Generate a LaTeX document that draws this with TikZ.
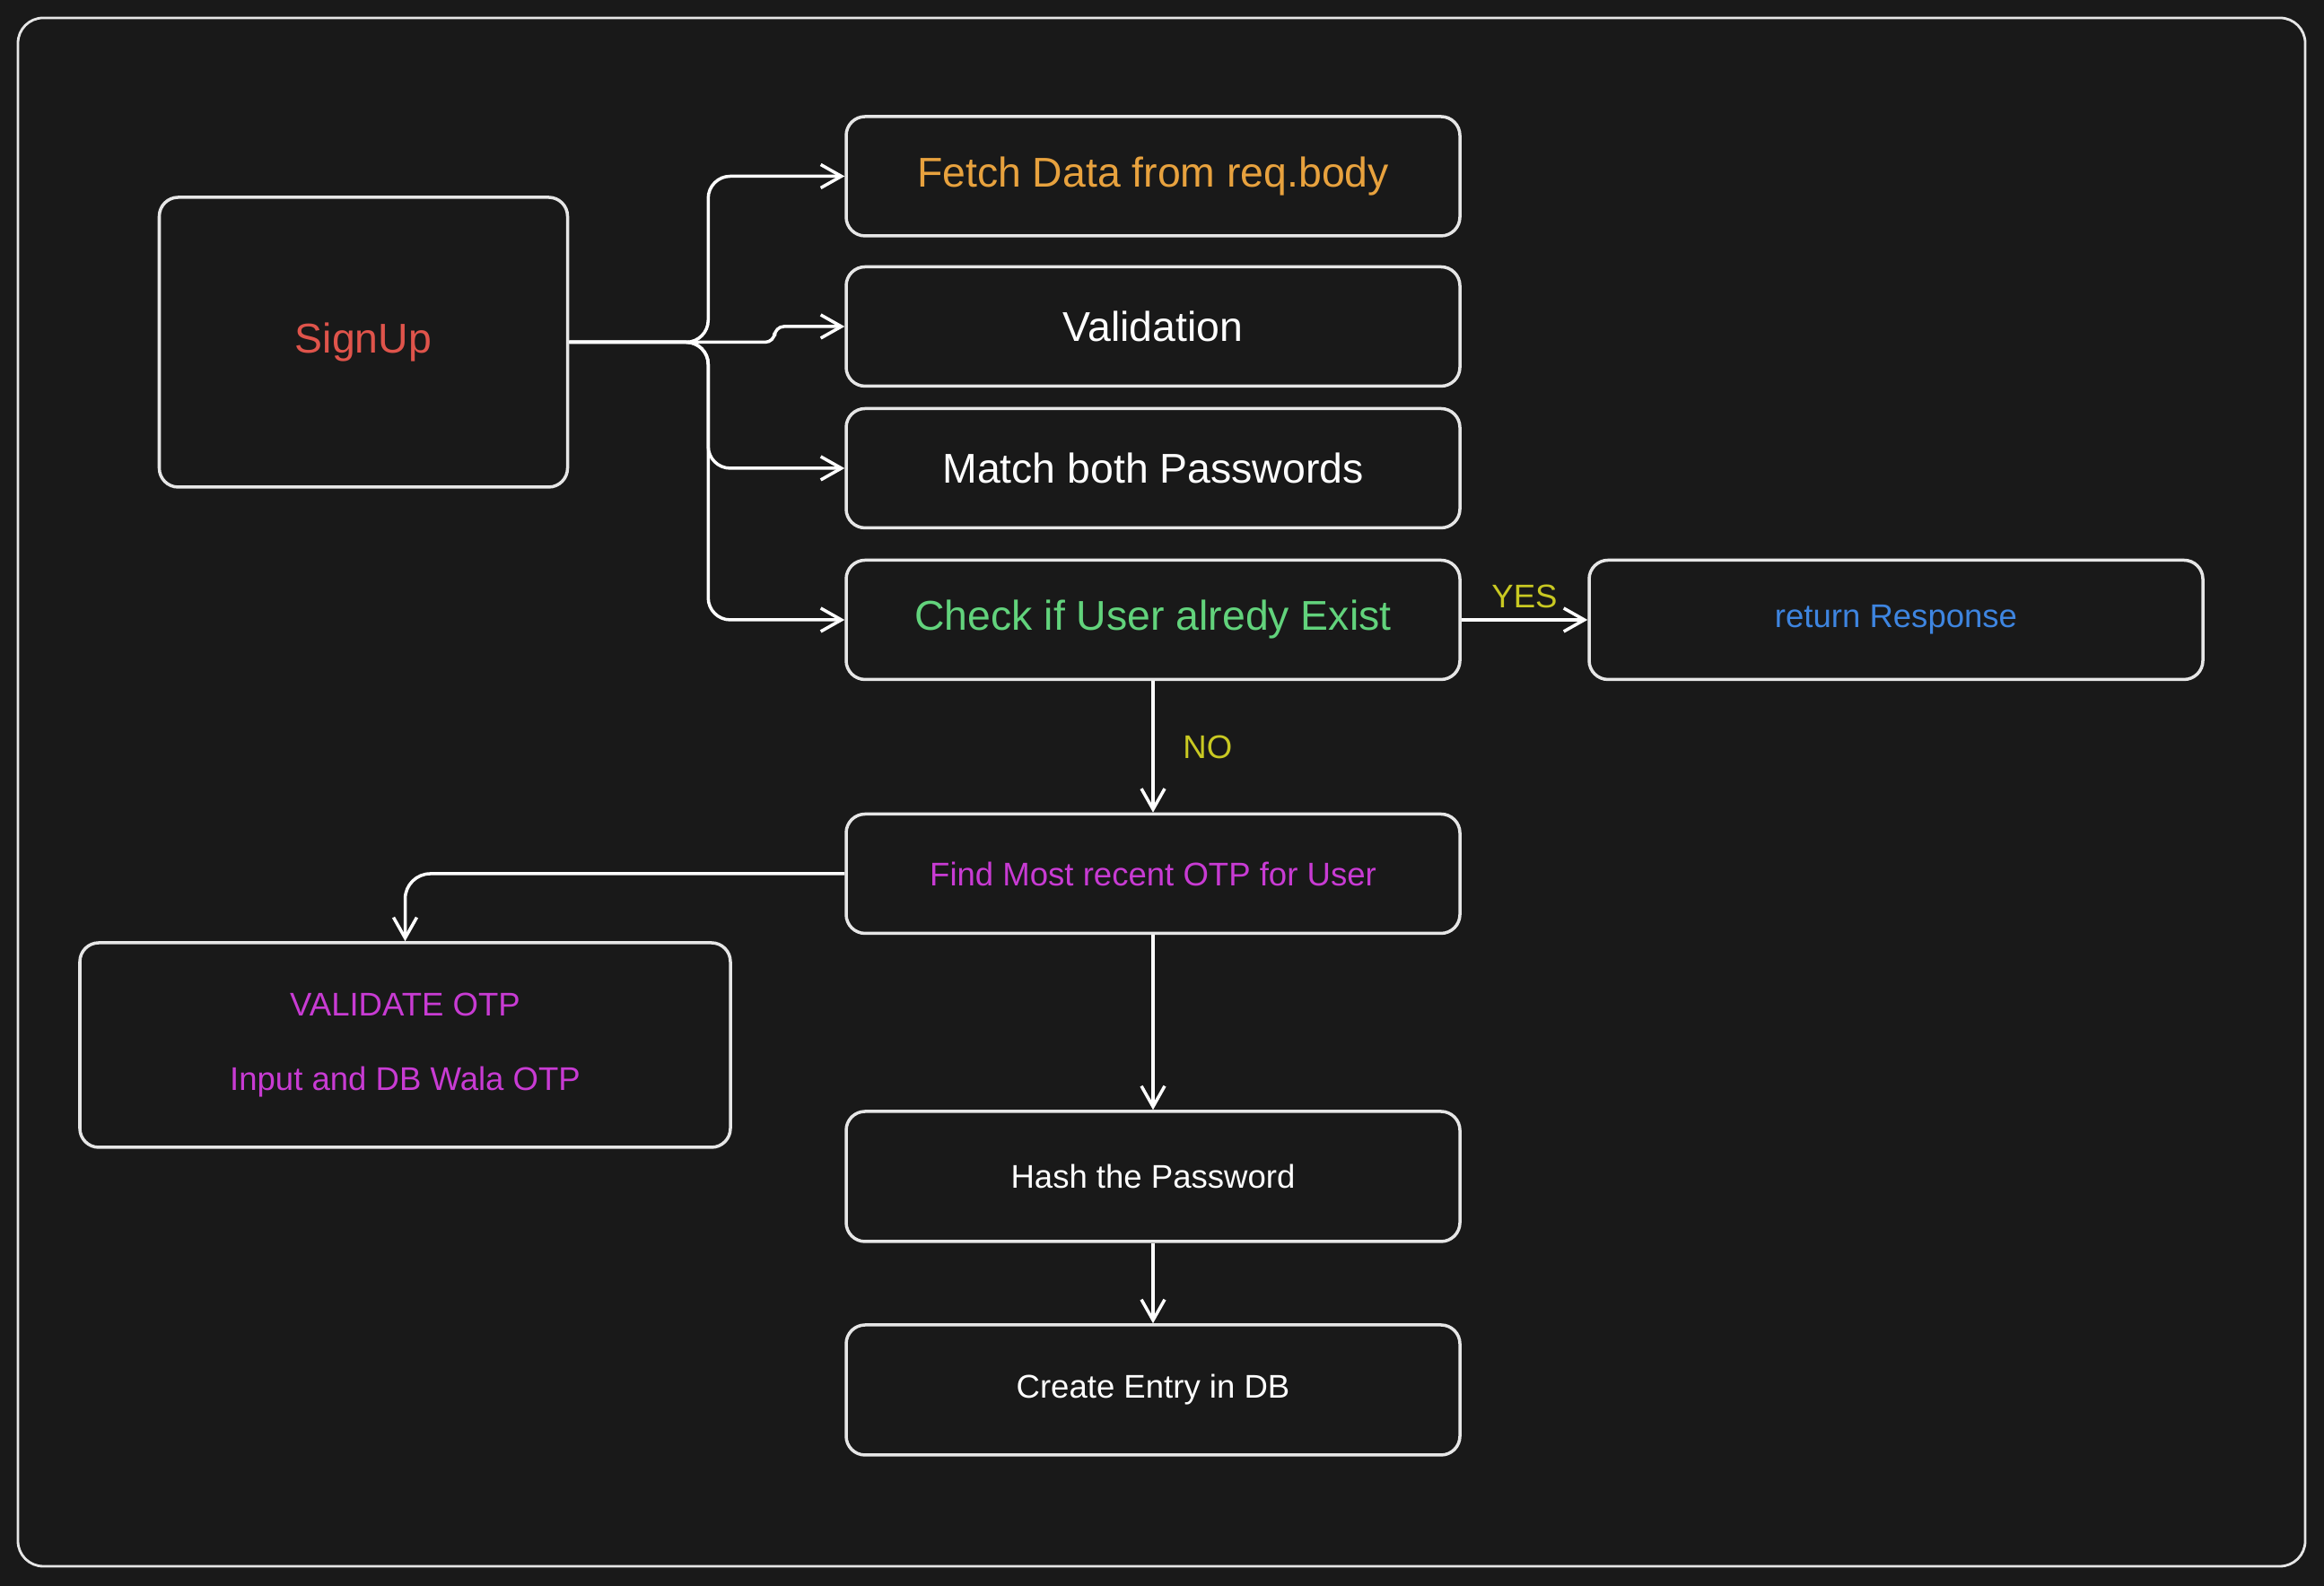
\documentclass[tikz,border=0pt]{standalone}
\usepackage{fontspec}
\setmainfont{Liberation Sans}
\usepackage{xcolor}
\usepackage{tikz}
\usetikzlibrary{positioning,arrows.meta}

\definecolor{bgcol}{HTML}{191919}
\definecolor{edgecol}{HTML}{E6E6E6}
\definecolor{fetchcol}{HTML}{E8A23E}
\definecolor{signcol}{HTML}{E0544B}
\definecolor{checkcol}{HTML}{62D37C}
\definecolor{respcol}{HTML}{3E85E0}
\definecolor{otpcol}{HTML}{C83BD3}
\definecolor{decicol}{HTML}{C9C922}

\tikzset{
    box/.style={draw=edgecol, line width=1pt, rounded corners=6pt, inner sep=0pt,
        minimum width=6.84cm, minimum height=1.33cm, align=center},
    bigtxt/.style={font=\fontsize{13.2}{16}\selectfont},
    smalltxt/.style={font=\fontsize{10.4}{23.6}\selectfont},
    harr/.style={draw=white, line width=1pt, -{Straight Barb[length=2.3mm,width=2.6mm]}},
    varr/.style={draw=white, line width=1pt, -{Straight Barb[length=2.3mm,width=2.6mm]}},
    decision/.style={text=decicol, font=\fontsize{10.4}{13}\selectfont}
}

\begin{document}
\begin{tikzpicture}
    \fill[bgcol] (0,0) rectangle (25.9,17.68);
    \draw[edgecol, line width=0.8pt, rounded corners=8pt] (0.2,0.22) rectangle (25.69,17.48);

    % left entry box
    \node[box, bigtxt, text=signcol, minimum width=4.55cm, minimum height=3.23cm] (signup) at (4.05,13.865) {SignUp};

    % main column
    \node[box, bigtxt, text=fetchcol] (fetch) at (12.85,15.715) {Fetch Data from req.body};
    \node[box, bigtxt, text=white] (valid) at (12.85,14.04) {Validation};
    \node[box, bigtxt, text=white] (match) at (12.85,12.46) {Match both Passwords};
    \node[box, bigtxt, text=checkcol] (check) at (12.85,10.77) {Check if User alredy Exist};
    \node[box, smalltxt, text=respcol] (resp) at (21.13,10.77) {return Response};
    \node[box, smalltxt, text=otpcol] (findotp) at (12.85,7.94) {Find Most recent OTP for User};
    \node[box, smalltxt, text=otpcol, minimum width=7.25cm, minimum height=2.28cm] (valotp) at (4.515,6.03) {VALIDATE OTP\\Input and DB Wala OTP};
    \node[box, smalltxt, text=white, minimum height=1.45cm] (hash) at (12.85,4.565) {Hash the Password};
    \node[box, smalltxt, text=white, minimum height=1.45cm] (create) at (12.85,2.185) {Create Entry in DB};

    % fan out from signup
    \coordinate[right=1.55cm of signup.east] (junc);
    \draw[harr, rounded corners=7pt] (signup.east) -- (junc) |- (fetch.west);
    \draw[harr, rounded corners=3pt] (signup.east) -- (junc) -- ++(0.74,0) |- (valid.west);
    \draw[harr, rounded corners=7pt] (signup.east) -- (junc) |- (match.west);
    \draw[harr, rounded corners=7pt] (signup.east) -- (junc) |- (check.west);

    % decisions
    \draw[harr] (check.east) -- node[decision, above] {YES} (resp.west);
    \draw[varr] (check.south) -- node[decision, right=0.2cm] {NO} (findotp.north);

    \draw[varr, rounded corners=8pt] (findotp.west) -| (valotp.north);
    \draw[varr] (findotp.south) -- (hash.north);
    \draw[varr] (hash.south) -- (create.north);
\end{tikzpicture}
\end{document}
